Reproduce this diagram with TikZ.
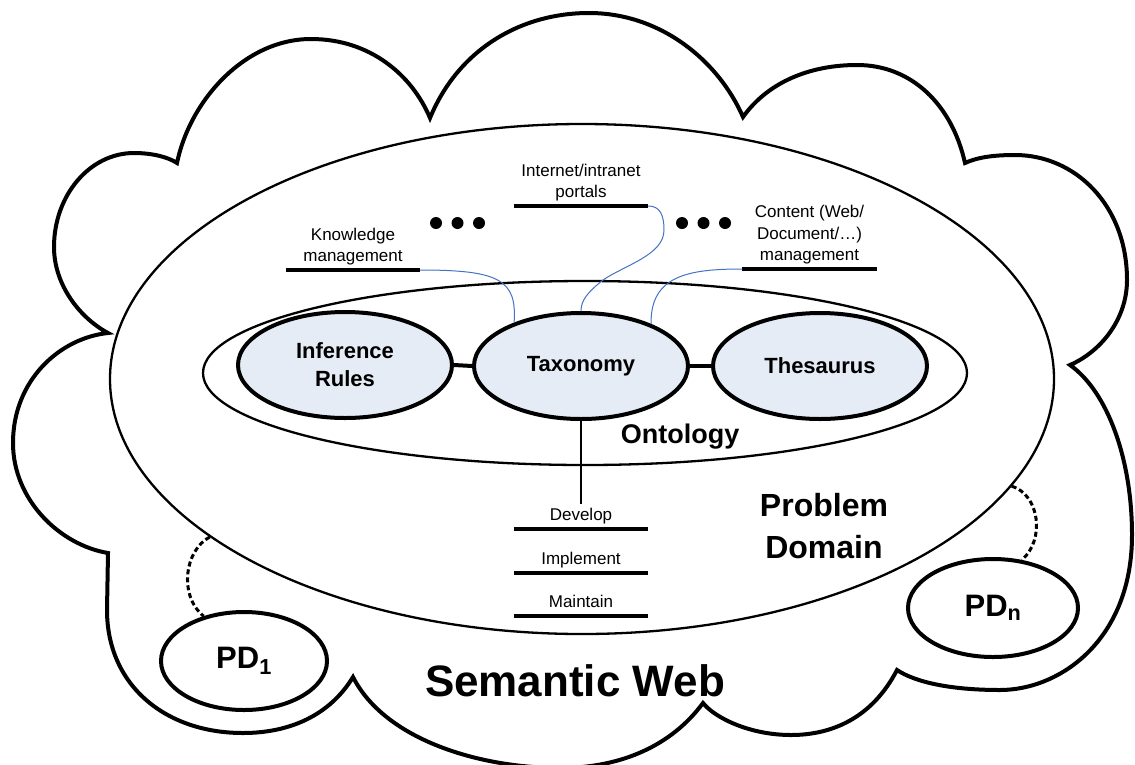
\documentclass[tikz,border=0pt]{standalone}
\usepackage{fontspec}
\setmainfont{Liberation Sans}
\usetikzlibrary{shapes.geometric}
\definecolor{blobfill}{RGB}{230,236,246}
\definecolor{linkblue}{RGB}{68,114,196}
\tikzset{
  cloudline/.style={line width=4pt, line join=miter},
  thinell/.style={draw, ellipse, line width=2.3pt, inner sep=0pt},
  blob/.style={draw, ellipse, line width=4pt, fill=blobfill, inner sep=0pt,
    minimum width=214pt, minimum height=106pt, align=center,
    font=\fontsize{22}{28}\selectfont\bfseries},
  pdell/.style={draw, ellipse, line width=4pt, inner sep=0pt,
    font=\fontsize{31}{36}\selectfont\bfseries},
  bar/.style={line width=4.5pt},
  joinbar/.style={line width=4pt},
  bluelink/.style={draw=linkblue, line width=1pt},
  dashlink/.style={line width=3pt, dash pattern=on 5pt off 3pt},
  dot/.style={circle, fill=black, minimum size=12pt, inner sep=0pt},
  barlabel/.style={font=\fontsize{17}{21.5}\selectfont, align=center,
    minimum width=134pt, inner xsep=0pt, inner ysep=4.5pt, anchor=south}
}
\begin{document}
\begin{tikzpicture}[x=1pt,y=-1pt]
\useasboundingbox (0,0) rectangle (1135,764);
% Semantic Web cloud
\draw[cloudline] (108,333)
 .. controls (80,318) and (54,285) .. (54,247)
 .. controls (54,195) and (90,153) .. (134,153)
 .. controls (152,153) and (168,157) .. (177,163)
 .. controls (190,100) and (245,39) .. (311,39)
 .. controls (370,39) and (412,75) .. (430,118)
 .. controls (458,50) and (520,13) .. (589,13)
 .. controls (660,13) and (718,60) .. (743,117)
 .. controls (768,82) and (810,65) .. (857,65)
 .. controls (912,65) and (952,105) .. (965,163)
 .. controls (978,157) and (995,155) .. (1015,155)
 .. controls (1075,155) and (1127,205) .. (1127,280)
 .. controls (1127,320) and (1100,352) .. (1070,365)
 .. controls (1108,392) and (1132,460) .. (1132,535)
 .. controls (1132,640) and (1060,690) .. (1000,690)
 .. controls (950,690) and (915,682) .. (897,670)
 .. controls (872,718) and (832,735) .. (791,735)
 .. controls (750,735) and (715,718) .. (703,703)
 .. controls (672,745) and (622,768) .. (560,768)
 .. controls (480,768) and (385,740) .. (353,677)
 .. controls (330,715) and (290,733) .. (243,733)
 .. controls (165,733) and (107,685) .. (107,610)
 -- (108,553)
 .. controls (60,545) and (13,500) .. (13,443)
 .. controls (13,380) and (60,338) .. (108,333)
 -- cycle;
% Problem domain and ontology
\node[thinell, minimum width=944pt, minimum height=510pt] (pdom) at (582,379) {};
\node[thinell, minimum width=764pt, minimum height=184pt] (onto) at (585,373) {};
% ontology parts
\node[blob] (inf) at (345,365) {Inference\\Rules};
\node[blob] (tax) at (581,366) {Taxonomy};
\node[blob] (thes) at (820,366) {Thesaurus};
\draw[joinbar] (inf.east) -- (tax.west);
\draw[joinbar] (tax.east) -- (thes.west);
% labels
\node[font=\fontsize{27}{32}\selectfont\bfseries, anchor=base] (ontolabel) at (680,443) {Ontology};
\node[font=\fontsize{32}{42}\selectfont\bfseries, align=center] (pdlabel) at (824,526) {Problem\\Domain};
\node[font=\fontsize{44}{50}\selectfont\bfseries, anchor=base] (swlabel) at (575,696) {Semantic Web};
% application labels
\node[barlabel] (km) at (353,270) {Knowledge\\management};
\node[barlabel] (portal) at (581,206) {Internet/intranet\\portals};
\node[barlabel] (content) at (809.5,269) {Content (Web/\\Document/\dots)\\management};
\draw[bar] (km.south west) -- (km.south east);
\draw[bar] (portal.south west) -- (portal.south east);
\draw[bar] (content.south west) -- (content.south east);
\node[dot] (dl1) at (436,223) {};
\node[dot] (dl2) at (457.5,223) {};
\node[dot] (dl3) at (479,223) {};
\node[dot] (dr1) at (682,223) {};
\node[dot] (dr2) at (703.5,223) {};
\node[dot] (dr3) at (725,223) {};
\draw[bluelink] (km.south east) .. controls (500,270) and (517,280) .. (tax.147);
\draw[bluelink] (portal.south east) .. controls (660,206) and (664,215) .. (664,230)
  .. controls (664,255) and (625,265) .. (603,280)
  .. controls (588,292) and (581,300) .. (tax.north);
\draw[bluelink] (content.south west) .. controls (690,269) and (650,275) .. (tax.31);
% develop / implement / maintain
\node[barlabel] (dev) at (581,529) {Develop};
\node[barlabel] (impl) at (581,573) {Implement};
\node[barlabel] (maint) at (581,616) {Maintain\vphantom{p}};
\draw[bar] (dev.south west) -- (dev.south east);
\draw[bar] (impl.south west) -- (impl.south east);
\draw[bar] (maint.south west) -- (maint.south east);
\draw[line width=2.3pt] (tax.south) -- (dev.north);
% problem domain instances
\node[pdell, minimum width=166pt, minimum height=98pt] (pd1) at (244,661) {PD\textsubscript{1}};
\node[pdell, minimum width=170pt, minimum height=98pt] (pdn) at (993,608) {PD\textsubscript{n}};
\draw[dashlink] (pdom.203) .. controls (185,550) and (178,595) .. (pd1.132);
\draw[dashlink] (pdom.346) .. controls (1040,495) and (1045,540) .. (pdn.59);
\end{tikzpicture}
\end{document}
